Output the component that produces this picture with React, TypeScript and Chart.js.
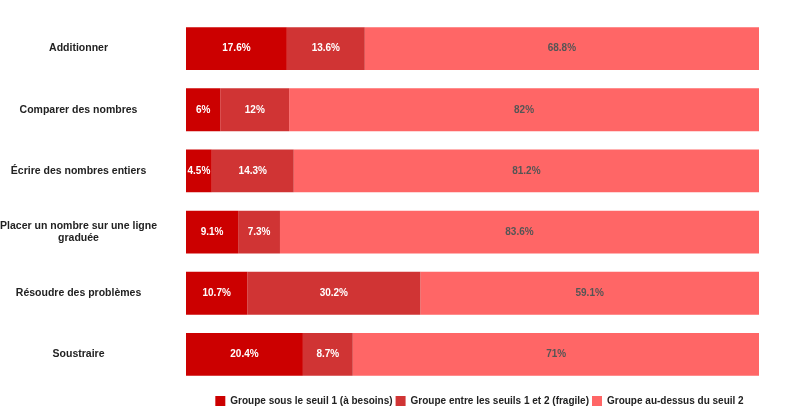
import React, { useEffect, useRef } from "react";
import { Chart, registerables } from "chart.js";

Chart.register(...registerables);

const categories: (string | string[])[] = [
  "Additionner",
  "Comparer des nombres",
  "Écrire des nombres entiers",
  ["Placer un nombre sur une ligne", "graduée"],
  "Résoudre des problèmes",
  "Soustraire",
];

const seriesNames = [
  "Groupe sous le seuil 1 (à besoins)",
  "Groupe entre les seuils 1 et 2 (fragile)",
  "Groupe au-dessus du seuil 2",
];

const belowThreshold1 = [17.6, 6, 4.5, 9.1, 10.7, 20.4];
const betweenThresholds = [13.6, 12, 14.3, 7.3, 30.2, 8.7];
const aboveThreshold2 = [68.8, 82, 81.2, 83.6, 59.1, 71];

const seriesColors = ["#cc0000", "#d03434", "#ff6666"];
const labelColors = ["#ffffff", "#ffffff", "#555555"];

const FONT = '"Liberation Sans", Arial, Helvetica, sans-serif';

const valueLabelPlugin = {
  id: "valueLabels",
  afterDatasetsDraw(chart: any) {
    const ctx = chart.ctx;
    ctx.save();
    ctx.font = `bold 10px ${FONT}`;
    ctx.textAlign = "center";
    ctx.textBaseline = "middle";
    chart.data.datasets.forEach((ds: any, di: number) => {
      const meta = chart.getDatasetMeta(di);
      if (meta.hidden) return;
      meta.data.forEach((el: any, i: number) => {
        const v = ds.data[i];
        if (v == null) return;
        const p = el.getCenterPoint();
        ctx.fillStyle = labelColors[di];
        ctx.fillText(`${v}%`, p.x, p.y);
      });
    });
    ctx.restore();
  },
};

const legendShiftPlugin = {
  id: "legendShift",
  afterLayout(chart: any) {
    if (chart.legend) {
      chart.legend.left += 14;
    }
  },
};

export default function App() {
  const canvasRef = useRef<HTMLCanvasElement | null>(null);

  useEffect(() => {
    document.body.style.margin = "0";
    document.body.style.overflow = "hidden";
    document.documentElement.style.overflow = "hidden";
    Chart.defaults.font.family = FONT;

    const seriesValues = [belowThreshold1, betweenThresholds, aboveThreshold2];
    const chart = new Chart(canvasRef.current as HTMLCanvasElement, {
      type: "bar",
      data: {
        labels: categories,
        datasets: seriesNames.map((name, i) => ({
          label: name,
          data: seriesValues[i],
          backgroundColor: seriesColors[i],
          borderWidth: 0,
          barPercentage: 0.7,
          categoryPercentage: 1,
        })),
      },
      options: {
        indexAxis: "y",
        animation: false,
        responsive: true,
        maintainAspectRatio: false,
        layout: { padding: { top: 18, right: 35, left: 0, bottom: 0 } },
        scales: {
          x: {
            stacked: true,
            min: 0,
            max: 100,
            display: true,
            grid: { display: false, drawTicks: false },
            border: { display: false },
            ticks: { display: false },
            afterFit: (s: any) => {
              s.height = 8;
              s.paddingLeft = 0;
              s.paddingRight = 0;
            },
          },
          y: {
            stacked: true,
            grid: { display: false, drawTicks: false },
            border: { display: false },
            ticks: {
              crossAlign: "center",
              padding: 29,
              color: "#222222",
              font: { size: 10.5, weight: "bold", family: FONT },
            },
            afterFit: (s: any) => {
              s.width = 186;
              s.paddingTop = 0;
              s.paddingBottom = 0;
            },
          },
        },
        plugins: {
          legend: {
            position: "bottom",
            fullSize: false,
            labels: {
              boxWidth: 10,
              boxHeight: 10,
              padding: 3,
              color: "#222222",
              font: { size: 10, weight: "bold", family: FONT },
            },
          },
          tooltip: { enabled: false },
        },
      },
      plugins: [valueLabelPlugin, legendShiftPlugin],
    } as any);
    return () => chart.destroy();
  }, []);

  return (
    <div style={{ width: 794, height: 416, position: "relative" }}>
      <canvas ref={canvasRef} />
    </div>
  );
}
